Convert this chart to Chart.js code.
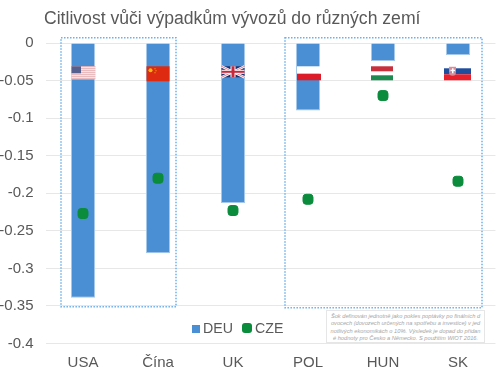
<!DOCTYPE html>
<html>
<head>
<meta charset="utf-8">
<script src="https://cdn.jsdelivr.net/npm/chart.js@4"></script>
<style>
html, body { margin: 0; padding: 0; background: #fff; }
body { width: 500px; height: 369px; position: relative; overflow: hidden; font-family: "Liberation Sans", sans-serif; }
#title { position: absolute; left: 44px; top: 8px; font-size: 17.6px; color: #595959; white-space: nowrap; }
#legend { position: absolute; left: 192px; top: 320px; font-size: 14.2px; color: #595959; white-space: nowrap; }
#legend i { display: inline-block; width: 8px; height: 8px; margin-right: 3px; }
#legend span { margin-right: 9px; }
#note { position: absolute; left: 326px; top: 310px; width: 159px; height: 33px; box-sizing: border-box; border: 1px solid #e6e6e6; background: #fff;
  font-size: 5.7px; line-height: 7.4px; font-style: italic; text-align: center; color: #a6a6a6; padding-top: 2px; white-space: nowrap; }
</style>
</head>
<body>
<canvas id="chart" width="500" height="369"></canvas>
<div id="title">Citlivost vůči výpadkům vývozů do různých zemí</div>
<div id="legend"></div>
<div id="note">Šok definován jednotně jako pokles poptávky po finálních d<br>ovocech (dovozech určených na spotřebu a investice) v jed<br>notlivých ekonomikách o 10%. Výsledek je dopad do přidan<br>é hodnoty pro Česko a Německo. S použitím WIOT 2016.</div>
<script>
const categories = ['USA', 'Čína', 'UK', 'POL', 'HUN', 'SK'];
const deuValues = [-0.339, -0.28, -0.213, -0.09, -0.024, -0.016];
const czeValues = [-0.227, -0.18, -0.223, -0.208, -0.07, -0.184];
const yTicks = [0, -0.05, -0.1, -0.15, -0.2, -0.25, -0.3, -0.35, -0.4];

const blue = '#4a8ed4';
const green = '#0a8c3c';

function drawFlag(ctx, code, x, y) {
    if (code === 'USA') {
        ctx.fillStyle = '#fff';
        ctx.fillRect(x, y, 24, 13);
        ctx.fillStyle = '#e0a0a6';
        for (let i = 0; i < 7; i++) ctx.fillRect(x, y + i * 2, 24, 1);
        ctx.fillStyle = '#56608e';
        ctx.fillRect(x, y, 9.5, 7);
    } else if (code === 'Čína') {
        ctx.fillStyle = '#de2a10';
        ctx.fillRect(x, y, 23, 15);
        ctx.fillStyle = '#f5b818';
        ctx.beginPath();
        ctx.arc(x + 4, y + 4, 2, 0, Math.PI * 2);
        ctx.fill();
        ctx.fillRect(x + 8, y + 2, 1, 1);
        ctx.fillRect(x + 9, y + 4, 1, 1);
        ctx.fillRect(x + 8, y + 6, 1, 1);
    } else if (code === 'UK') {
        ctx.fillStyle = '#1c2f6e';
        ctx.fillRect(x, y, 23, 11);
        ctx.strokeStyle = '#fff';
        ctx.lineWidth = 2.5;
        ctx.beginPath();
        ctx.moveTo(x, y); ctx.lineTo(x + 23, y + 11);
        ctx.moveTo(x + 23, y); ctx.lineTo(x, y + 11);
        ctx.stroke();
        ctx.strokeStyle = '#d8606c';
        ctx.lineWidth = 0.8;
        ctx.stroke();
        ctx.fillStyle = '#fff';
        ctx.fillRect(x + 9, y, 5, 11);
        ctx.fillRect(x, y + 3.5, 23, 4);
        ctx.fillStyle = '#c8283c';
        ctx.fillRect(x + 10, y, 3, 11);
        ctx.fillRect(x, y + 4.5, 23, 2);
    } else if (code === 'POL') {
        ctx.fillStyle = '#fff';
        ctx.fillRect(x, y, 24, 7.5);
        ctx.fillStyle = '#dc1c28';
        ctx.fillRect(x, y + 7.5, 24, 6.5);
    } else if (code === 'HUN') {
        ctx.fillStyle = '#c8303c';
        ctx.fillRect(x, y, 22, 5);
        ctx.fillStyle = '#1f8a50';
        ctx.fillRect(x, y + 9, 22, 5);
    } else if (code === 'SK') {
        ctx.fillStyle = '#1f4e9c';
        ctx.fillRect(x, y + 2, 27, 6);
        ctx.fillStyle = '#e8202c';
        ctx.fillRect(x, y + 8, 27, 6);
        // shield
        ctx.fillStyle = '#e08a94';
        ctx.fillRect(x + 5, y + 0.5, 7, 5.5);
        ctx.beginPath();
        ctx.arc(x + 8.5, y + 6, 3.5, 0, Math.PI);
        ctx.fill();
        ctx.fillStyle = '#fff';
        ctx.fillRect(x + 8, y + 2, 1.5, 5);
        ctx.fillRect(x + 6.5, y + 3.5, 4.5, 1.2);
    }
}

const flagsPlugin = {
    id: 'flags',
    afterDatasetDraw(chart, args) {
        if (args.meta.type !== 'bar') return;
        const ctx = chart.ctx, xs = chart.scales.x, ys = chart.scales.y;
        const top = ys.getPixelForValue(-0.031);
        const offsets = { USA: -11.5, 'Čína': -11.5, UK: -11.5, POL: -11, HUN: -12, SK: -14 };
        ctx.save();
        categories.forEach((c, i) => {
            drawFlag(ctx, c, xs.getPixelForValue(i) + offsets[c], top);
        });
        ctx.restore();
    }
};

const boxesPlugin = {
    id: 'boxes',
    afterDraw(chart) {
        const ctx = chart.ctx, xs = chart.scales.x, ys = chart.scales.y;
        const top = ys.getPixelForValue(0.007);
        const bottom = ys.getPixelForValue(-0.351);
        ctx.save();
        ctx.strokeStyle = '#6fb0ea';
        ctx.lineWidth = 1.5;
        ctx.setLineDash([1.5, 1.5]);
        const left1 = xs.getPixelForValue(0) - 22;
        const right1 = xs.getPixelForValue(1) + 18;
        const left2 = xs.getPixelForValue(3) - 23;
        const right2 = xs.getPixelForValue(5) + 24;
        ctx.strokeRect(left1, top, right1 - left1, bottom - top);
        ctx.strokeRect(left2, top, right2 - left2, bottom - top + 1);
        ctx.restore();
    }
};

new Chart(document.getElementById('chart'), {
    type: 'bar',
    data: {
        labels: categories,
        datasets: [{
            type: 'line',
            label: 'CZE',
            data: czeValues,
            showLine: false,
            pointStyle: 'rectRounded',
            pointRadius: 5.8,
            backgroundColor: green,
            borderColor: green,
            pointBackgroundColor: green,
            pointBorderColor: green,
            order: 0
        }, {
            label: 'DEU',
            data: deuValues,
            backgroundColor: blue,
            borderColor: '#a5c8ea',
            borderWidth: 1,
            barPercentage: 0.32,
            categoryPercentage: 1,
            order: 1
        }]
    },
    plugins: [flagsPlugin, boxesPlugin],
    options: {
        responsive: false,
        animation: false,
        // the point overflow would otherwise eat into the right edge
        layout: { autoPadding: false, padding: { top: 43, right: 4.5, left: 0, bottom: 0 } },
        plugins: { legend: { display: false }, tooltip: { enabled: false } },
        scales: {
            x: {
                grid: { display: false },
                border: { display: false },
                ticks: { color: '#595959', font: { size: 15, family: '"Liberation Sans"' }, padding: 2, maxRotation: 0 },
                afterFit(scale) { scale.height = 25.5; }
            },
            y: {
                min: -0.4,
                max: 0,
                afterBuildTicks(scale) { scale.ticks = yTicks.map(v => ({ value: v })); },
                grid: { color: '#e7e7e7', drawTicks: false },
                border: { display: false },
                ticks: {
                    color: '#595959',
                    font: { size: 15, family: '"Liberation Sans"' },
                    padding: 12,
                    callback: v => String(v)
                },
                afterFit(scale) { scale.width = 45.5; }
            }
        }
    }
});

document.getElementById('legend').innerHTML =
    '<span><i style="background:' + blue + '"></i>DEU</span>' +
    '<i style="background:' + green + ';border-radius:3px;width:10px;height:10px"></i>CZE';
</script>
</body>
</html>
